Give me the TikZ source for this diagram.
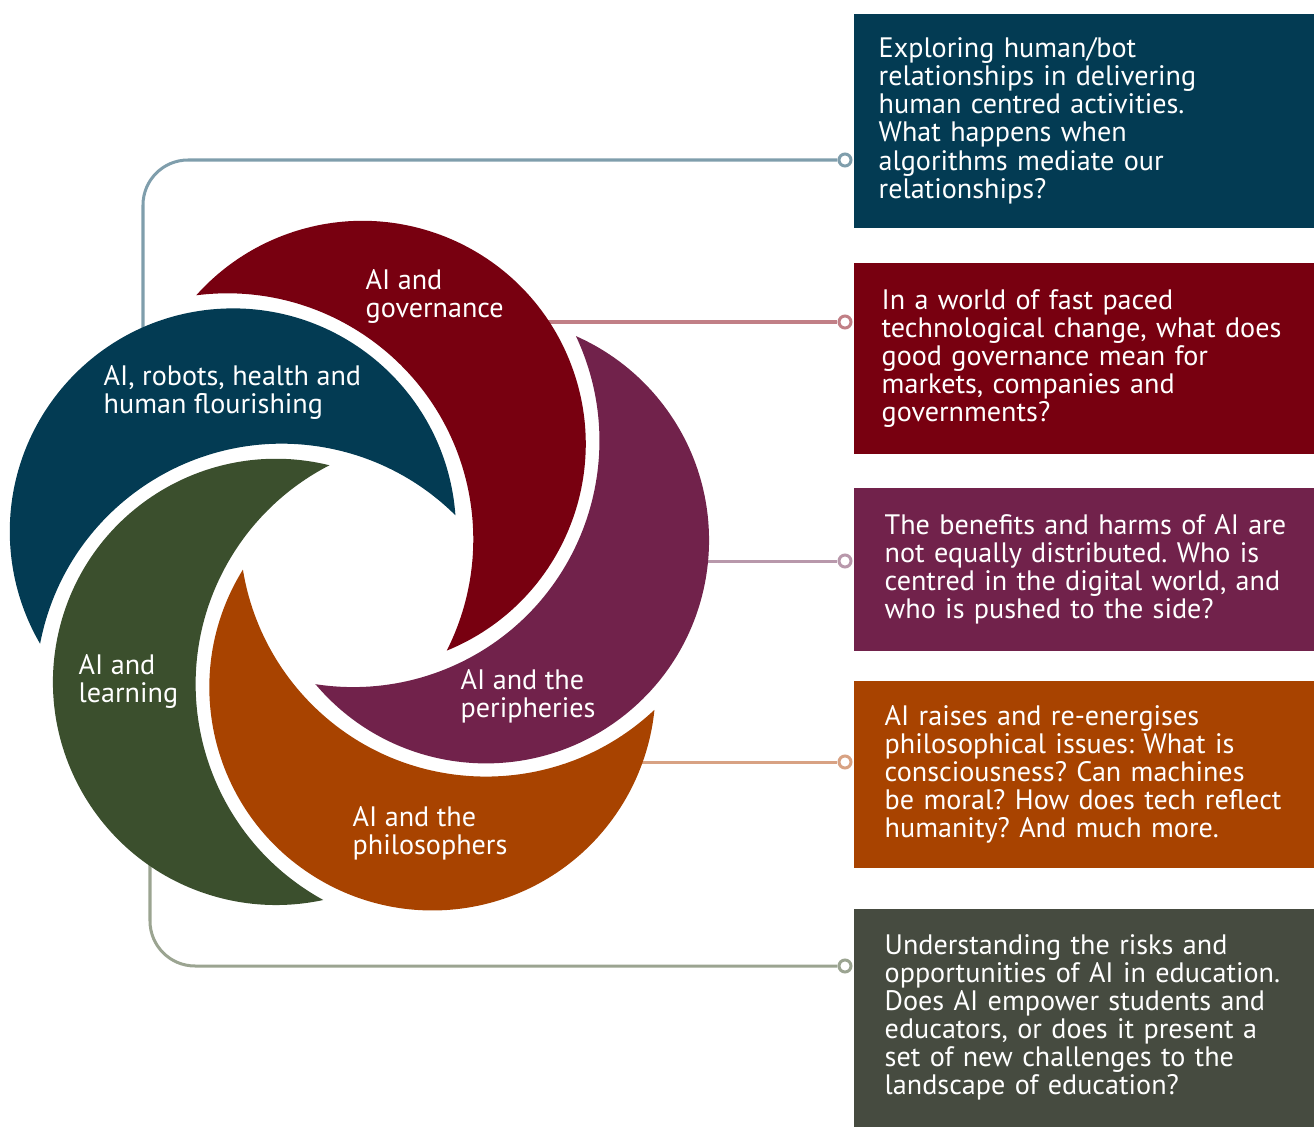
\documentclass[tikz,border=0pt]{standalone}
\usepackage{fontspec}
\setmainfont{PT Sans}
\usepackage{xcolor}
\usepackage{tikz}
\frenchspacing

\definecolor{swBlue}{HTML}{033B53}
\definecolor{swRed}{HTML}{780010}
\definecolor{swPurple}{HTML}{71224B}
\definecolor{swOrange}{HTML}{A84300}
\definecolor{swGreen}{HTML}{3B4F2D}
\definecolor{swGrey}{HTML}{464B40}
\definecolor{lnBlue}{HTML}{7F9EAC}
\definecolor{lnRed}{HTML}{C17F86}
\definecolor{lnPurple}{HTML}{B898AB}
\definecolor{lnOrange}{HTML}{D8A283}
\definecolor{lnGreen}{HTML}{9BA491}

% one crescent of the swirl, turned about the hub
\newcommand{\swirlpiece}[2]{%
	\fill[#2,shift={(358,549)},rotate=#1] (97.44,61.67)
		arc[start angle=4.16,end angle=210.21,radius=2.23cm]
		arc[start angle=169.21,end angle=45.15,radius=2.46cm] -- cycle;}

\tikzset{
	box/.style={anchor=north west,text=white,align=left,inner xsep=0.28cm,
		text width=4.33cm,font=\fontsize{8pt}{7.97pt}\selectfont},
	lab/.style={anchor=west,text=white,align=left,inner sep=0pt,
		font=\fontsize{8pt}{7.97pt}\selectfont},
	dot/.style={circle,draw,fill=white,line width=0.03cm,minimum size=0.12cm,inner sep=0pt},
	link/.style={line width=0.03cm,rounded corners=0.45cm}
}

\begin{document}
\begin{tikzpicture}[x=0.01cm,y=0.01cm]
		\useasboundingbox (0,0) rectangle (1314,1126);
		%
		\node[box,fill=swBlue,inner xsep=0.25cm,minimum height=2.14cm] (hrb) at (853,1113)
			{Exploring human/bot\\relationships in delivering\\human centred activities.\\What happens when\\algorithms mediate our\\relationships?};
		\node[box,fill=swRed,minimum height=1.91cm] (gov) at (853,864)
			{In a world of fast paced\\technological change, what does\\good governance mean for\\markets, companies and\\governments?};
		\node[box,fill=swPurple,inner xsep=0.31cm,minimum height=1.63cm] (per) at (853,639)
			{The benefits and harms of AI are\\not equally distributed. Who is\\centred in the digital world, and\\who is pushed to the side?};
		\node[box,fill=swOrange,inner xsep=0.31cm,minimum height=1.87cm] (phi) at (853,446)
			{AI raises and re-energises\\philosophical issues: What is\\consciousness? Can machines\\be moral? How does tech reflect\\humanity? And much more.};
		\node[box,fill=swGrey,inner xsep=0.31cm,minimum height=2.18cm] (lrn) at (853,218)
			{Understanding the risks and\\opportunities of AI in education.\\Does AI empower students and\\educators, or does it present a\\set of new challenges to the\\landscape of education?};
		%
		\node[dot,draw=lnBlue] (hrb-dot) at (845,966) {};
		\node[dot,draw=lnRed] (gov-dot) at (845,804) {};
		\node[dot,draw=lnPurple] (per-dot) at (845,565) {};
		\node[dot,draw=lnOrange] (phi-dot) at (845,364) {};
		\node[dot,draw=lnGreen] (lrn-dot) at (845,160) {};
		%
		\coordinate (hrb-in) at (143,746);
		\coordinate (gov-in) at (500,804);
		\coordinate (per-in) at (660,565);
		\coordinate (phi-in) at (620,364);
		\coordinate (lrn-in) at (150,276);
		%
		\draw[link,lnBlue] (hrb-in) |- (hrb-dot);
		\draw[link,lnRed] (gov-in) -- (gov-dot);
		\draw[link,lnPurple] (per-in) -- (per-dot);
		\draw[link,lnOrange] (phi-in) -- (phi-dot);
		\draw[link,lnGreen] (lrn-in) |- (lrn-dot);
		%
		\swirlpiece{0}{swBlue}
		\swirlpiece{-72}{swRed}
		\swirlpiece{-144}{swPurple}
		\swirlpiece{-216}{swOrange}
		\swirlpiece{-288}{swGreen}
		%
		\node[lab] (hrb-lab) at (103,734) {AI, robots, health and\\human flourishing};
		\node[lab] (gov-lab) at (365,830) {AI and\\governance};
		\node[lab] (per-lab) at (460,430) {AI and the\\peripheries};
		\node[lab] (phi-lab) at (352,293) {AI and the\\philosophers};
		\node[lab] (lrn-lab) at (78,445) {AI and\\learning};
	\end{tikzpicture}
\end{document}
